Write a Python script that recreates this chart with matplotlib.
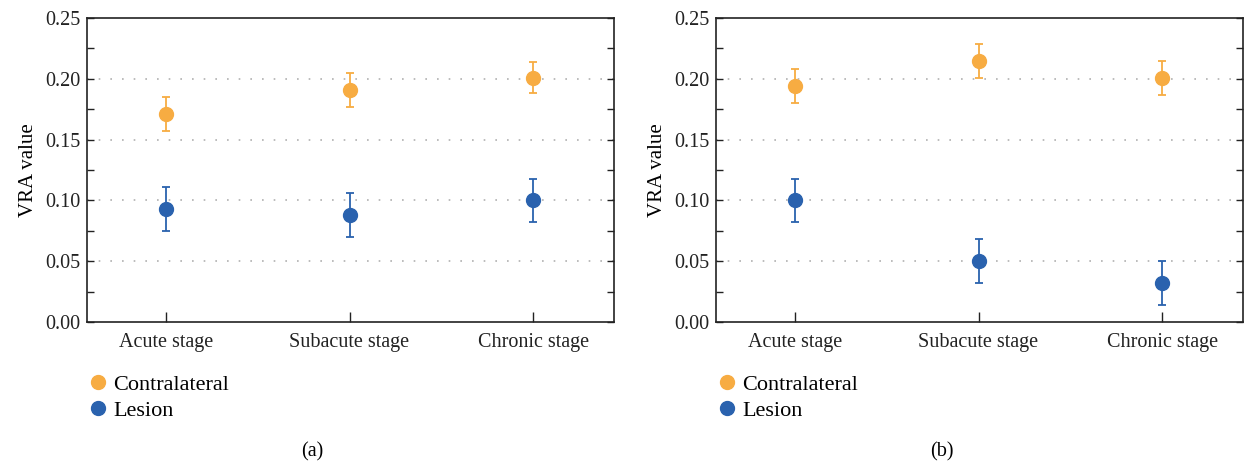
import matplotlib.pyplot as plt
from matplotlib.lines import Line2D
from matplotlib.ticker import MultipleLocator

plt.rcParams['font.family'] = ['Liberation Serif', 'DejaVu Serif']

stages = ['Acute stage', 'Subacute stage', 'Chronic stage']
orange = '#F7AC42'
blue = '#2A62AE'

# panel (a)
contra_a = [0.171, 0.191, 0.201]
contra_a_err = [0.014, 0.014, 0.013]
lesion_a = [0.093, 0.088, 0.100]
lesion_a_err = [0.018, 0.018, 0.018]

# panel (b)
contra_b = [0.194, 0.215, 0.201]
contra_b_err = [0.014, 0.014, 0.014]
lesion_b = [0.100, 0.050, 0.032]
lesion_b_err = [0.018, 0.018, 0.018]

fig = plt.figure(figsize=(12.53, 4.61), dpi=100)


def panel(left, contra, contra_err, lesion, lesion_err, tag, tag_x):
    ax = fig.add_axes([left, 0.3015, 0.4206, 0.6594])
    x = range(len(stages))
    ax.errorbar(x, contra, yerr=contra_err, fmt='o', color=orange, ms=10,
                elinewidth=1.3, capsize=2.6, capthick=1.3, zorder=3)
    ax.errorbar(x, lesion, yerr=lesion_err, fmt='o', color=blue, ms=10,
                elinewidth=1.3, capsize=2.6, capthick=1.3, zorder=3)
    ax.set_xlim(-0.43, 2.44)
    ax.set_ylim(0, 0.25)
    ax.set_xticks(list(x))
    ax.set_xticklabels(stages, fontsize=14.5)
    ax.yaxis.set_major_locator(MultipleLocator(0.05))
    ax.yaxis.set_minor_locator(MultipleLocator(0.025))
    ax.set_yticklabels(['%.2f' % v for v in ax.get_yticks()], fontsize=14.5)
    ax.tick_params(axis='y', which='both', direction='in', right=True,
                   length=5, width=1, colors='#222222', pad=5)
    ax.tick_params(axis='x', direction='in', length=7, width=1, colors='#222222', pad=8)
    for sp in ax.spines.values():
        sp.set_linewidth(1.2)
        sp.set_color('#222222')
    for v in [0.05, 0.10, 0.15, 0.20]:
        ax.axhline(v, color='#b0b0b0', lw=1.2, ls=(0, (1, 6)), zorder=1)
    ax.set_ylabel('VRA value', fontsize=15, labelpad=5)
    handles = [Line2D([], [], marker='o', ls='none', color=orange, ms=10),
               Line2D([], [], marker='o', ls='none', color=blue, ms=10)]
    ax.legend(handles, ['Contralateral', 'Lesion'], loc='upper left',
              bbox_to_anchor=(-0.03, -0.12), frameon=False, fontsize=16,
              handletextpad=0.2, labelspacing=0.25, handlelength=1.0,
              borderaxespad=0.3)
    fig.text(tag_x, -0.002, tag, ha='center', va='bottom', fontsize=14.5)
    return ax


panel(0.0694, contra_a, contra_a_err, lesion_a, lesion_a_err, '(a)', 0.249)
panel(0.5714, contra_b, contra_b_err, lesion_b, lesion_b_err, '(b)', 0.752)

fig.savefig('out.png', dpi=100)
